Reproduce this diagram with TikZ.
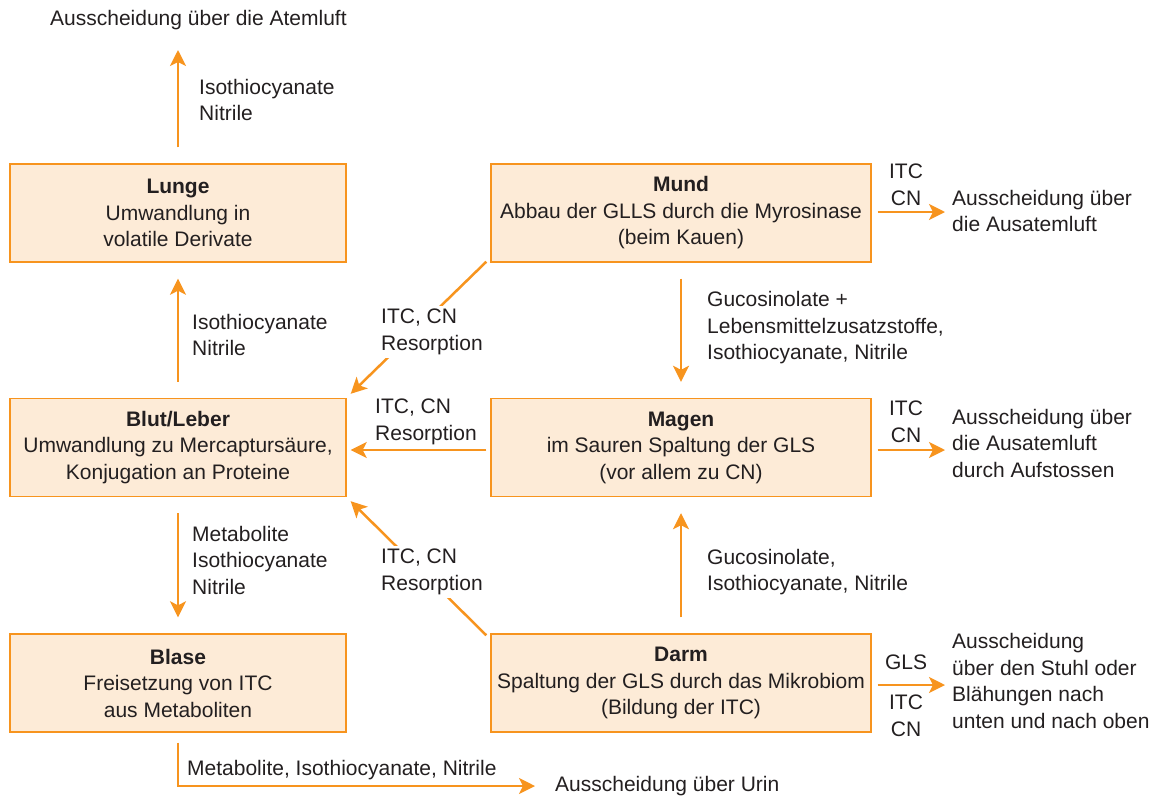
\documentclass[tikz,border=0pt]{standalone}
\usepackage{fontspec}
\setmainfont{Liberation Sans}
\usetikzlibrary{arrows.meta}
\definecolor{bfill}{HTML}{FDEBD7}
\definecolor{borange}{HTML}{F7941E}
\definecolor{aorange}{HTML}{F7941E}
\definecolor{tgray}{HTML}{231F20}
\newcommand{\fsz}{\fontsize{21}{26.5}\selectfont}
\tikzset{
  box/.style={draw=borange, fill=bfill, line width=1.4pt, minimum width=336pt, minimum height=98pt, inner sep=0pt, align=center, font=\fsz, text=tgray},
  lab/.style={align=left, inner sep=0pt, font=\fsz, text=tgray},
  clab/.style={align=center, inner sep=0pt, font=\fsz, text=tgray},
  wlab/.style={lab, fill=white, inner sep=3pt},
  arr/.style={draw=aorange, line width=2.5pt, -{Stealth[length=16pt,width=16pt,inset=4pt]}}
}
\begin{document}
\begin{tikzpicture}[x=1pt,y=-1pt]
\useasboundingbox (0,0) rectangle (1153,798);
% boxes
\node[box] (lunge) at (178,213) {\textbf{Lunge}\\Umwandlung in\\volatile Derivate};
\node[box] (blut) at (178,447.5) {\textbf{Blut/Leber}\\Umwandlung zu Mercaptursäure,\\Konjugation an Proteine};
\node[box] (blase) at (178,683) {\textbf{Blase}\\Freisetzung von ITC\\aus Metaboliten};
\node[box, minimum width=380pt] (mund) at (681,213) {\textbf{Mund}\\Abbau der GLLS durch die Myrosinase\\(beim Kauen)};
\node[box, minimum width=380pt] (magen) at (681,447.5) {\textbf{Magen}\\im Sauren Spaltung der GLS\\(vor allem zu CN)};
\node[box, minimum width=380pt] (darm) at (681,683) {\textbf{Darm}\\Spaltung der GLS durch das Mikrobiom\\(Bildung der ITC)};
% outer texts
\node[lab, anchor=west] (atem) at (50,20) {Ausscheidung über die Atemluft};
\node[lab, anchor=west] (urin) at (555,786) {Ausscheidung über Urin};
\node[lab, anchor=west] (ausM) at (952,211) {Ausscheidung über\\die Ausatemluft};
\node[lab, anchor=west] (ausG) at (952,443) {Ausscheidung über\\die Ausatemluft\\durch Aufstossen};
\node[lab, anchor=west] (ausD) at (952,681) {Ausscheidung\\über den Stuhl oder\\Blähungen nach\\unten und nach oben};
\coordinate (atemtip) at (178,50);
% left column arrows
\draw[arr] ([yshift=16pt]lunge.north) -- (atemtip);
\node[lab, anchor=west] (l1) at (199,100) {Isothiocyanate\\Nitrile};
\draw[arr] ([yshift=16pt]blut.north) -- ([yshift=-16pt]lunge.south);
\node[lab, anchor=west] (l2) at (192,335) {Isothiocyanate\\Nitrile};
\draw[arr] ([yshift=-16pt]blut.south) -- ([yshift=16pt]blase.north);
\node[lab, anchor=west] (l3) at (192,560) {Metabolite\\Isothiocyanate\\Nitrile};
\draw[arr] ([yshift=-10pt]blase.south) |- ([xshift=-20pt]urin.west);
\node[lab, anchor=west] (l4) at (187,770) {Metabolite, Isothiocyanate, Nitrile};
% center arrows
\draw[arr] ([shift={(-4,-1)}]mund.south west) -- ([shift={(4,-4)}]blut.north east);
\node[wlab, anchor=west] (r1) at (378,332) {ITC, CN\\Resorption};
\draw[arr] ([xshift=-4pt]magen.west |- 0,450) -- ([xshift=4pt]blut.east |- 0,450);
\node[lab, anchor=west] (r2) at (375,422) {ITC, CN\\Resorption};
\draw[arr] ([shift={(-4,2)}]darm.north west) -- ([shift={(4,4)}]blut.south east);
\node[wlab, anchor=west] (r3) at (378,572) {ITC, CN\\Resorption};
% right column vertical arrows
\draw[arr] ([yshift=-16pt]mund.south) -- ([yshift=16pt]magen.north);
\node[lab, anchor=west] (m1) at (707,328) {Gucosinolate +\\Lebensmittelzusatzstoffe,\\Isothiocyanate, Nitrile};
\draw[arr] ([yshift=16pt]darm.north) -- ([yshift=-16pt]magen.south);
\node[lab, anchor=west] (m2) at (707,572) {Gucosinolate,\\Isothiocyanate, Nitrile};
% right exits
\draw[arr] ([xshift=6pt]mund.east |- 0,212) -- ([xshift=-7pt]ausM.west |- 0,212);
\node[clab] (e1) at (906,185) {ITC\\CN};
\draw[arr] ([xshift=6pt]magen.east |- 0,450) -- ([xshift=-7pt]ausG.west |- 0,450);
\node[clab] (e2) at (906,422) {ITC\\CN};
\draw[arr] ([xshift=6pt]darm.east |- 0,685) -- ([xshift=-7pt]ausD.west |- 0,685);
\node[clab] (e3) at (906,662) {GLS};
\node[clab] (e4) at (906,716) {ITC\\CN};
\end{tikzpicture}
\end{document}
